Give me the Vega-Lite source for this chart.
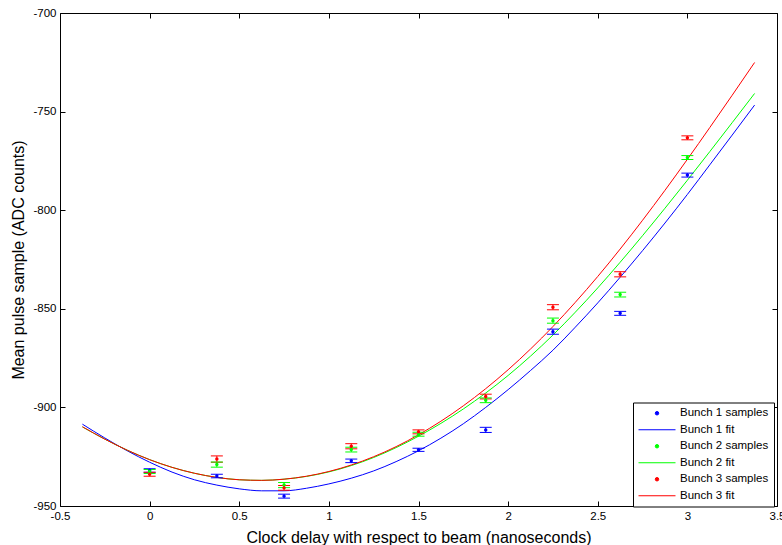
{
  "$schema": "https://vega.github.io/schema/vega-lite/v6.json",
  "width": 717,
  "height": 493,
  "autosize": {"type": "none"},
  "padding": {"left": 60, "top": 13, "right": 5, "bottom": 39},
  "background": "#ffffff",
  "title": {
    "text": "Gaussian least square fit",
    "font": "Liberation Sans",
    "fontSize": 16,
    "fontWeight": "normal",
    "color": "#000000",
    "anchor": "middle",
    "frame": "group",
    "baseline": "alphabetic",
    "offset": 4
  },
  "config": {
    "locale": {"number": {"decimal": ".", "thousands": ",", "grouping": [3], "currency": ["$", ""], "minus": "-"}},
    "view": {"stroke": "#000000", "strokeWidth": 1},
    "axis": {
      "domain": false,
      "grid": false,
      "ticks": true,
      "tickColor": "#000000",
      "tickSize": -5,
      "tickWidth": 1,
      "labelFont": "Liberation Sans",
      "labelFontSize": 11.5,
      "labelColor": "#000000",
      "labelFlush": false,
      "labelOverlap": false,
      "labelBound": false,
      "titleFont": "Liberation Sans",
      "titleFontSize": 16,
      "titleFontWeight": "normal",
      "titleColor": "#000000"
    },
    "legend": {
      "orient": "none",
      "legendX": 573,
      "legendY": 389.5,
      "padding": 5,
      "strokeColor": "#000000",
      "fillColor": "#ffffff",
      "strokeWidth": 1,
      "cornerRadius": 0,
      "labelFont": "Liberation Sans",
      "labelFontSize": 11.5,
      "labelColor": "#000000",
      "labelLimit": 200,
      "symbolSize": 12,
      "rowPadding": 3.5
    }
  },
  "datasets": {
    "samples": [
      {"series": "Bunch 1 samples", "x": 0, "y": -932.0, "lo": -932.9, "hi": -931.1},
      {"series": "Bunch 1 samples", "x": 0.375, "y": -934.8, "lo": -935.7, "hi": -933.9},
      {"series": "Bunch 1 samples", "x": 0.75, "y": -945.0, "lo": -946.0, "hi": -944.0},
      {"series": "Bunch 1 samples", "x": 1.125, "y": -927.1, "lo": -928.0, "hi": -926.2},
      {"series": "Bunch 1 samples", "x": 1.5, "y": -921.5, "lo": -922.3, "hi": -920.7},
      {"series": "Bunch 1 samples", "x": 1.875, "y": -911.4, "lo": -912.7, "hi": -910.1},
      {"series": "Bunch 1 samples", "x": 2.25, "y": -861.6, "lo": -862.9, "hi": -860.3},
      {"series": "Bunch 1 samples", "x": 2.625, "y": -852.3, "lo": -853.3, "hi": -851.3},
      {"series": "Bunch 1 samples", "x": 3.0, "y": -782.2, "lo": -783.2, "hi": -781.2},
      {"series": "Bunch 2 samples", "x": 0, "y": -932.5, "lo": -933.5, "hi": -931.5},
      {"series": "Bunch 2 samples", "x": 0.375, "y": -929.0, "lo": -930.3, "hi": -927.7},
      {"series": "Bunch 2 samples", "x": 0.75, "y": -939.4, "lo": -940.7, "hi": -938.1},
      {"series": "Bunch 2 samples", "x": 1.125, "y": -921.4, "lo": -922.6, "hi": -920.2},
      {"series": "Bunch 2 samples", "x": 1.5, "y": -913.6, "lo": -914.6, "hi": -912.6},
      {"series": "Bunch 2 samples", "x": 1.875, "y": -896.4, "lo": -897.6, "hi": -895.2},
      {"series": "Bunch 2 samples", "x": 2.25, "y": -856.0, "lo": -857.3, "hi": -854.7},
      {"series": "Bunch 2 samples", "x": 2.625, "y": -842.8, "lo": -844.0, "hi": -841.6},
      {"series": "Bunch 2 samples", "x": 3.0, "y": -773.3, "lo": -774.3, "hi": -772.3},
      {"series": "Bunch 3 samples", "x": 0, "y": -933.9, "lo": -934.9, "hi": -932.9},
      {"series": "Bunch 3 samples", "x": 0.375, "y": -926.2, "lo": -927.8, "hi": -924.6},
      {"series": "Bunch 3 samples", "x": 0.75, "y": -940.8, "lo": -942.0, "hi": -939.6},
      {"series": "Bunch 3 samples", "x": 1.125, "y": -919.7, "lo": -921.0, "hi": -918.4},
      {"series": "Bunch 3 samples", "x": 1.5, "y": -912.4, "lo": -913.4, "hi": -911.4},
      {"series": "Bunch 3 samples", "x": 1.875, "y": -894.5, "lo": -895.7, "hi": -893.3},
      {"series": "Bunch 3 samples", "x": 2.25, "y": -849.2, "lo": -850.5, "hi": -847.9},
      {"series": "Bunch 3 samples", "x": 2.625, "y": -832.5, "lo": -833.8, "hi": -831.2},
      {"series": "Bunch 3 samples", "x": 3.0, "y": -763.3, "lo": -764.3, "hi": -762.3}
    ],
    "fits": [
      {"series": "Bunch 1 fit", "x": -0.375, "y": -908.5},
      {"series": "Bunch 1 fit", "x": -0.25, "y": -915.5},
      {"series": "Bunch 1 fit", "x": -0.125, "y": -922.0},
      {"series": "Bunch 1 fit", "x": 0, "y": -927.8},
      {"series": "Bunch 1 fit", "x": 0.125, "y": -932.8},
      {"series": "Bunch 1 fit", "x": 0.25, "y": -936.7},
      {"series": "Bunch 1 fit", "x": 0.375, "y": -939.4},
      {"series": "Bunch 1 fit", "x": 0.5, "y": -941.3},
      {"series": "Bunch 1 fit", "x": 0.625, "y": -942.3},
      {"series": "Bunch 1 fit", "x": 0.75, "y": -942.3},
      {"series": "Bunch 1 fit", "x": 0.875, "y": -941.0},
      {"series": "Bunch 1 fit", "x": 1.0, "y": -938.8},
      {"series": "Bunch 1 fit", "x": 1.125, "y": -935.9},
      {"series": "Bunch 1 fit", "x": 1.25, "y": -932.2},
      {"series": "Bunch 1 fit", "x": 1.375, "y": -927.5},
      {"series": "Bunch 1 fit", "x": 1.5, "y": -922.0},
      {"series": "Bunch 1 fit", "x": 1.625, "y": -915.6},
      {"series": "Bunch 1 fit", "x": 1.75, "y": -908.3},
      {"series": "Bunch 1 fit", "x": 1.875, "y": -900.0},
      {"series": "Bunch 1 fit", "x": 2.0, "y": -891.0},
      {"series": "Bunch 1 fit", "x": 2.125, "y": -881.3},
      {"series": "Bunch 1 fit", "x": 2.25, "y": -871.0},
      {"series": "Bunch 1 fit", "x": 2.375, "y": -859.3},
      {"series": "Bunch 1 fit", "x": 2.5, "y": -847.0},
      {"series": "Bunch 1 fit", "x": 2.625, "y": -834.0},
      {"series": "Bunch 1 fit", "x": 2.75, "y": -820.5},
      {"series": "Bunch 1 fit", "x": 2.875, "y": -806.5},
      {"series": "Bunch 1 fit", "x": 3.0, "y": -792.0},
      {"series": "Bunch 1 fit", "x": 3.125, "y": -777.0},
      {"series": "Bunch 1 fit", "x": 3.25, "y": -761.9},
      {"series": "Bunch 1 fit", "x": 3.375, "y": -746.7},
      {"series": "Bunch 2 fit", "x": -0.375, "y": -909.9},
      {"series": "Bunch 2 fit", "x": -0.25, "y": -916.1},
      {"series": "Bunch 2 fit", "x": -0.125, "y": -921.7},
      {"series": "Bunch 2 fit", "x": 0, "y": -926.5},
      {"series": "Bunch 2 fit", "x": 0.125, "y": -930.4},
      {"series": "Bunch 2 fit", "x": 0.25, "y": -933.4},
      {"series": "Bunch 2 fit", "x": 0.375, "y": -935.5},
      {"series": "Bunch 2 fit", "x": 0.5, "y": -936.7},
      {"series": "Bunch 2 fit", "x": 0.625, "y": -937.0},
      {"series": "Bunch 2 fit", "x": 0.75, "y": -936.4},
      {"series": "Bunch 2 fit", "x": 0.875, "y": -935.0},
      {"series": "Bunch 2 fit", "x": 1.0, "y": -932.7},
      {"series": "Bunch 2 fit", "x": 1.125, "y": -929.5},
      {"series": "Bunch 2 fit", "x": 1.25, "y": -925.4},
      {"series": "Bunch 2 fit", "x": 1.375, "y": -920.4},
      {"series": "Bunch 2 fit", "x": 1.5, "y": -914.6},
      {"series": "Bunch 2 fit", "x": 1.625, "y": -908.1},
      {"series": "Bunch 2 fit", "x": 1.75, "y": -900.8},
      {"series": "Bunch 2 fit", "x": 1.875, "y": -892.7},
      {"series": "Bunch 2 fit", "x": 2.0, "y": -883.8},
      {"series": "Bunch 2 fit", "x": 2.125, "y": -874.0},
      {"series": "Bunch 2 fit", "x": 2.25, "y": -863.3},
      {"series": "Bunch 2 fit", "x": 2.375, "y": -851.7},
      {"series": "Bunch 2 fit", "x": 2.5, "y": -839.4},
      {"series": "Bunch 2 fit", "x": 2.625, "y": -826.4},
      {"series": "Bunch 2 fit", "x": 2.75, "y": -812.9},
      {"series": "Bunch 2 fit", "x": 2.875, "y": -799.0},
      {"series": "Bunch 2 fit", "x": 3.0, "y": -784.8},
      {"series": "Bunch 2 fit", "x": 3.125, "y": -770.3},
      {"series": "Bunch 2 fit", "x": 3.25, "y": -755.6},
      {"series": "Bunch 2 fit", "x": 3.375, "y": -740.8},
      {"series": "Bunch 3 fit", "x": -0.375, "y": -909.8},
      {"series": "Bunch 3 fit", "x": -0.25, "y": -916.1},
      {"series": "Bunch 3 fit", "x": -0.125, "y": -921.7},
      {"series": "Bunch 3 fit", "x": 0, "y": -926.5},
      {"series": "Bunch 3 fit", "x": 0.125, "y": -930.4},
      {"series": "Bunch 3 fit", "x": 0.25, "y": -933.4},
      {"series": "Bunch 3 fit", "x": 0.375, "y": -935.5},
      {"series": "Bunch 3 fit", "x": 0.5, "y": -936.7},
      {"series": "Bunch 3 fit", "x": 0.625, "y": -937.0},
      {"series": "Bunch 3 fit", "x": 0.75, "y": -936.4},
      {"series": "Bunch 3 fit", "x": 0.875, "y": -934.9},
      {"series": "Bunch 3 fit", "x": 1.0, "y": -932.5},
      {"series": "Bunch 3 fit", "x": 1.125, "y": -929.2},
      {"series": "Bunch 3 fit", "x": 1.25, "y": -925.0},
      {"series": "Bunch 3 fit", "x": 1.375, "y": -919.9},
      {"series": "Bunch 3 fit", "x": 1.5, "y": -913.9},
      {"series": "Bunch 3 fit", "x": 1.625, "y": -907.0},
      {"series": "Bunch 3 fit", "x": 1.75, "y": -899.2},
      {"series": "Bunch 3 fit", "x": 1.875, "y": -890.5},
      {"series": "Bunch 3 fit", "x": 2.0, "y": -880.9},
      {"series": "Bunch 3 fit", "x": 2.125, "y": -870.4},
      {"series": "Bunch 3 fit", "x": 2.25, "y": -859.0},
      {"series": "Bunch 3 fit", "x": 2.375, "y": -846.7},
      {"series": "Bunch 3 fit", "x": 2.5, "y": -833.6},
      {"series": "Bunch 3 fit", "x": 2.625, "y": -819.7},
      {"series": "Bunch 3 fit", "x": 2.75, "y": -805.1},
      {"series": "Bunch 3 fit", "x": 2.875, "y": -789.9},
      {"series": "Bunch 3 fit", "x": 3.0, "y": -774.2},
      {"series": "Bunch 3 fit", "x": 3.125, "y": -758.1},
      {"series": "Bunch 3 fit", "x": 3.25, "y": -741.7},
      {"series": "Bunch 3 fit", "x": 3.375, "y": -725.1}
    ]
  },
  "layer": [
    {
      "data": {"name": "fits"},
      "mark": {"type": "line", "strokeWidth": 1, "interpolate": "monotone"},
      "encoding": {
        "x": {
          "field": "x", "type": "quantitative",
          "scale": {"domain": [-0.5, 3.5], "nice": false, "zero": false},
          "axis": {
            "values": [-0.5, 0, 0.5, 1, 1.5, 2, 2.5, 3, 3.5],
            "format": "~g",
            "labelPadding": 9,
            "title": "Clock delay with respect to beam (nanoseconds)",
            "titleX": 358.5,
            "titleY": 31,
            "titleAlign": "center",
            "titleBaseline": "middle"
          }
        },
        "y": {
          "field": "y", "type": "quantitative",
          "scale": {"domain": [-950, -700], "nice": false, "zero": false},
          "axis": {
            "values": [-950, -900, -850, -800, -750, -700],
            "format": "d",
            "labelPadding": 9,
            "title": "Mean pulse sample (ADC counts)",
            "titleX": -42,
            "titleY": 246.5,
            "titleAngle": -90,
            "titleAlign": "center",
            "titleBaseline": "middle"
          }
        },
        "color": {
          "field": "series", "type": "nominal",
          "scale": {
            "domain": ["Bunch 1 samples", "Bunch 1 fit", "Bunch 2 samples", "Bunch 2 fit", "Bunch 3 samples", "Bunch 3 fit"],
            "range": ["#0000ff", "#0000ff", "#00ff00", "#00ff00", "#ff0000", "#ff0000"]
          },
          "legend": {
            "title": null,
            "encode": {
              "symbols": {
                "update": {
                  "shape": {"signal": "datum.index % 2 === 1 ? 'M-1,0L1,0' : 'circle'"},
                  "size": {"signal": "datum.index % 2 === 1 ? 1369 : 12"},
                  "fill": {"signal": "datum.index < 2 ? '#0000ff' : datum.index < 4 ? '#00ff00' : '#ff0000'"},
                  "stroke": {"signal": "datum.index < 2 ? '#0000ff' : datum.index < 4 ? '#00ff00' : '#ff0000'"},
                  "strokeWidth": {"value": 1},
                  "opacity": {"value": 1},
                  "x": {"value": 19}
                }
              },
              "labels": {
                "update": {
                  "x": {"value": 42}
                }
              }
            }
          }
        }
      }
    },
    {
      "data": {"name": "samples"},
      "mark": {"type": "rule", "strokeWidth": 1},
      "encoding": {
        "x": {"field": "x", "type": "quantitative", "axis": null},
        "y": {"field": "lo", "type": "quantitative", "axis": null},
        "y2": {"field": "hi"},
        "color": {"field": "series", "type": "nominal"}
      }
    },
    {
      "data": {"name": "samples"},
      "mark": {"type": "tick", "orient": "horizontal", "size": 12, "thickness": 1, "opacity": 1},
      "encoding": {
        "x": {"field": "x", "type": "quantitative", "axis": null},
        "y": {"field": "lo", "type": "quantitative", "axis": null},
        "color": {"field": "series", "type": "nominal"}
      }
    },
    {
      "data": {"name": "samples"},
      "mark": {"type": "tick", "orient": "horizontal", "size": 12, "thickness": 1, "opacity": 1},
      "encoding": {
        "x": {"field": "x", "type": "quantitative", "axis": null},
        "y": {"field": "hi", "type": "quantitative", "axis": null},
        "color": {"field": "series", "type": "nominal"}
      }
    },
    {
      "data": {"name": "samples"},
      "mark": {"type": "circle", "size": 12, "opacity": 1},
      "encoding": {
        "x": {"field": "x", "type": "quantitative", "axis": null},
        "y": {"field": "y", "type": "quantitative", "axis": null},
        "color": {"field": "series", "type": "nominal"}
      }
    },
    {
      "data": {"name": "samples"},
      "mark": {"type": "point", "opacity": 0},
      "encoding": {
        "x": {
          "field": "x", "type": "quantitative",
          "axis": {"orient": "top", "values": [-0.5, 0, 0.5, 1, 1.5, 2, 2.5, 3, 3.5], "labels": false, "title": null}
        },
        "y": {
          "field": "y", "type": "quantitative",
          "axis": {"orient": "right", "values": [-950, -900, -850, -800, -750, -700], "labels": false, "title": null}
        }
      }
    }
  ],
  "resolve": {"axis": {"x": "independent", "y": "independent"}}
}
